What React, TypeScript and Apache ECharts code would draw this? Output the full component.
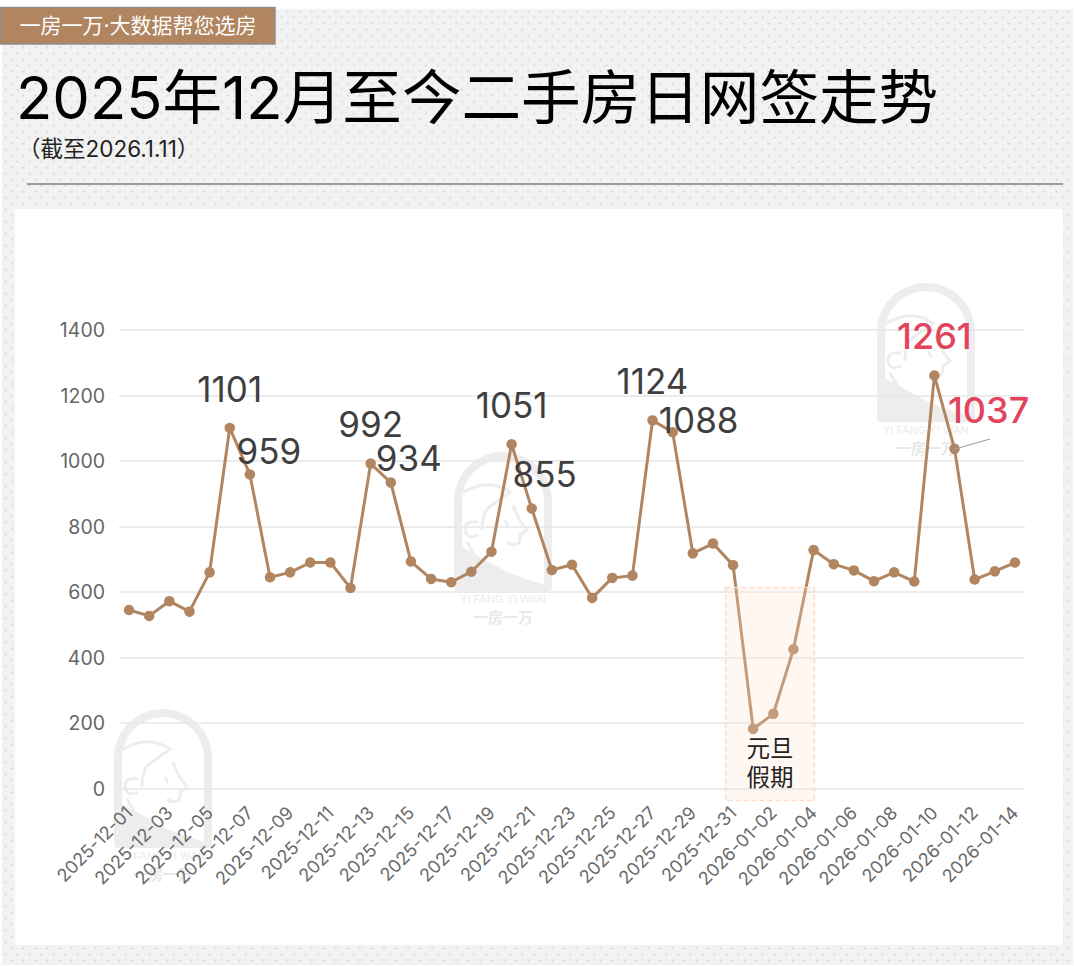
import React, { useEffect, useRef } from "react";
import * as echarts from "echarts";

const dates = [
  "2025-12-01","2025-12-02","2025-12-03","2025-12-04","2025-12-05","2025-12-06","2025-12-07","2025-12-08","2025-12-09","2025-12-10",
  "2025-12-11","2025-12-12","2025-12-13","2025-12-14","2025-12-15","2025-12-16","2025-12-17","2025-12-18","2025-12-19","2025-12-20",
  "2025-12-21","2025-12-22","2025-12-23","2025-12-24","2025-12-25","2025-12-26","2025-12-27","2025-12-28","2025-12-29","2025-12-30",
  "2025-12-31","2026-01-01","2026-01-02","2026-01-03","2026-01-04","2026-01-05","2026-01-06","2026-01-07","2026-01-08","2026-01-09",
  "2026-01-10","2026-01-11","2026-01-12","2026-01-13","2026-01-14",
];
const values = [
  545,527,572,540,660,1101,959,645,660,690,
  690,612,992,934,693,640,630,662,723,1051,
  855,667,683,582,643,650,1124,1088,718,748,
  682,182,228,425,728,685,666,633,660,632,
  1261,1037,638,663,690,
];
const yTicks = { min: 0, max: 1400, step: 200 };
const titleText = "2025年12月至今二手房日网签走势";
const subtitleText = "（截至2026.1.11）";
const badgeText = "一房一万·大数据帮您选房";
const holidayText = "元旦\n假期";
const wmLatin = "YI FANG YI WAN";
const wmChinese = "一房一万";

const labelOffsets: Record<string, [number, number]> = {
  "2025-12-06": [0, -17], "2025-12-07": [19, -1], "2025-12-13": [0, -17], "2025-12-14": [18, -2],
  "2025-12-20": [0, -17], "2025-12-21": [13, -12], "2025-12-27": [0, -17], "2025-12-28": [26, 10],
  "2026-01-10": [0, -17], "2026-01-11": [34, -17],
};
const redDates = ["2026-01-10", "2026-01-11"];

const BROWN = "#b08560";
const FONT = 'Inter, "Noto Sans CJK SC", sans-serif';

echarts.graphic.registerShape("wmArch", echarts.graphic.extendPath(
  "M4,139 Q0,139 0,135 L0,49 A49,49 0 0 1 98,49 L98,135 Q98,139 94,139 Z " +
  "M8,95 L55,121 L90,133 L90,49 A41,41 0 0 0 8,49 Z", {}));
echarts.graphic.registerShape("wmFace", echarts.graphic.extendPath(
  "M8,41 Q34,25 56,40 L34,56 Q28,62 28,78 M24,70 Q10,68 11,78 Q13,88 24,83 M13,90 L23,108 " +
  "M59,53 Q64,68 73,78 L66,83 Q67,90 63,92 Q58,94 53,90 M51,68 L54,74", {}));

function watermark(x: number, y: number) {
  return [
    { type: "wmArch", x, y, z: -5, silent: true, style: { fill: "#ededed" } },
    { type: "wmFace", x, y, z: -5, silent: true, style: { fill: "none", stroke: "#ededed", lineWidth: 3 } },
    { type: "text", x: x + 49, y: y + 147, z: -5, silent: true, style: { text: wmLatin, fill: "#ededed", font: `11px ${FONT}`, align: "center", verticalAlign: "middle" } },
    { type: "text", x: x + 49, y: y + 165, z: -5, silent: true, style: { text: wmChinese, fill: "#e8e8e8", font: `bold 15px ${FONT}`, align: "center", verticalAlign: "middle" } },
  ];
}

export default function App() {
  const ref = useRef<HTMLDivElement>(null);
  useEffect(() => {
    document.body.style.margin = "0";
    const chart = echarts.init(ref.current!, undefined, { renderer: "svg" });
    const seriesData = values.map((v, i) => {
      const off = labelOffsets[dates[i]];
      if (!off) return v;
      const red = redDates.includes(dates[i]);
      return {
        value: v,
        label: {
          show: true, position: "top", distance: 0, offset: off,
          fontSize: red ? 36 : 35, lineHeight: 34, fontFamily: FONT, fontWeight: red ? 500 : 400,
          color: red ? "#e2445c" : "#3f3f3f",
        },
      };
    });
    chart.setOption({
      animation: false,
      backgroundColor: "transparent",
      grid: { left: 119, right: 49, top: 330, bottom: 966 - 788.5 },
      xAxis: {
        type: "category", data: dates, boundaryGap: true,
        axisLine: { show: false }, axisTick: { show: false },
        axisLabel: { interval: 1, rotate: 45, fontSize: 18, color: "#6a6a6a", fontFamily: FONT, margin: 21, padding: [18, 0, 0, 0] },
      },
      yAxis: {
        type: "value", min: yTicks.min, max: yTicks.max, interval: yTicks.step,
        axisLine: { show: false }, axisTick: { show: false },
        axisLabel: { fontSize: 19.5, color: "#666666", fontFamily: FONT, margin: 14, formatter: (v: number) => String(v) },
        splitLine: { lineStyle: { color: "#e6e6e6", width: 1.5 } },
      },
      series: [{
        type: "line", data: seriesData, smooth: false, symbol: "circle", symbolSize: 10.5,
        lineStyle: { color: BROWN, width: 3 }, itemStyle: { color: BROWN },
        label: { show: false },
      }],
      graphic: [
        { type: "rect", z: -10, silent: true, shape: { x: 15, y: 209, width: 1048, height: 736 }, style: { fill: "#ffffff" } },
        ...watermark(114, 709),
        ...watermark(454, 452),
        ...watermark(877, 283),
        { type: "rect", z: 50, silent: true, shape: { x: 0.5, y: 7.5, width: 274.5, height: 36.5 }, style: { fill: BROWN, stroke: "#8e8e8e", lineWidth: 1.5 } },
        { type: "text", z: 50, x: 138, y: 25.5, silent: true, style: { text: badgeText, fill: "#ffffff", font: `21px ${FONT}`, align: "center", verticalAlign: "middle" } },
        { type: "text", z: 50, x: 16, y: 97, silent: true, style: { text: titleText, fill: "#000000", font: `400 59.6px ${FONT}`, align: "left", verticalAlign: "middle" } },
        { type: "text", z: 50, x: 18, y: 148, silent: true, style: { text: subtitleText, fill: "#222222", font: `22.5px ${FONT}`, align: "left", verticalAlign: "middle" } },
        { type: "line", z: 50, silent: true, shape: { x1: 27, y1: 184, x2: 1063, y2: 184 }, style: { stroke: "#7f7f7f", lineWidth: 1.5 } },
        { type: "rect", z: 60, silent: true, shape: { x: 725.5, y: 587.5, width: 89, height: 213 }, style: { fill: "rgba(255,225,205,0.26)", stroke: "#fbdcc8", lineWidth: 1.5, lineDash: [5, 3] } },
        { type: "text", z: 61, x: 770, y: 763, silent: true, style: { text: holidayText, fill: "#222222", font: `23.5px ${FONT}`, lineHeight: 29, align: "center", verticalAlign: "middle" } },
        { type: "line", z: 61, silent: true, shape: { x1: 955, y1: 449, x2: 990, y2: 439 }, style: { stroke: "#a0a0a0", lineWidth: 1.2 } },
      ],
    });
    return () => chart.dispose();
  }, []);
  return (
    <div style={{ position: "relative", width: 1074, height: 966, background: "#ffffff", overflow: "hidden" }}>
      <div style={{
        position: "absolute", left: 2, top: 9, width: 1071, height: 956,
        backgroundColor: "#f2f2f2",
        backgroundImage: "radial-gradient(circle, #d2d2d2 0.8px, transparent 1.1px), radial-gradient(circle, #d2d2d2 0.8px, transparent 1.1px)",
        backgroundSize: "12.02px 12.02px",
        backgroundPosition: "3.5px -3.5px, -2.5px 2.5px",
      }} />
      <div ref={ref} style={{ position: "absolute", left: 0, top: 0, width: 1074, height: 966 }} />
    </div>
  );
}
